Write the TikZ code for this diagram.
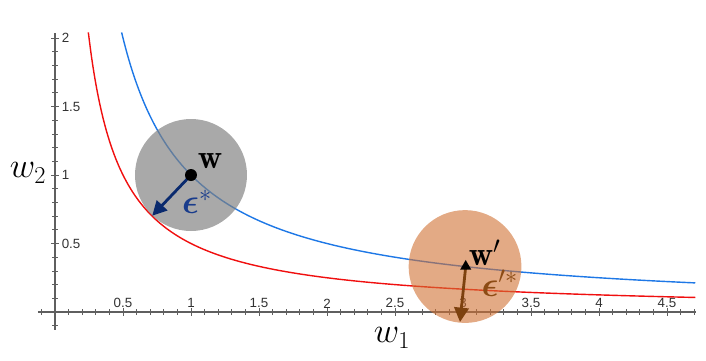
\documentclass[tikz,border=0pt]{standalone}
\usepackage{fontspec}
\usepackage{amsmath}
\usepackage{bm}
\usepackage{xcolor}
\usetikzlibrary{arrows.meta,shapes.geometric}

\newfontfamily\ticksans{Liberation Sans}

\definecolor{curveblue}{RGB}{30,120,230}
\definecolor{curvered}{RGB}{240,15,15}
\definecolor{axisgray}{RGB}{95,95,95}
\definecolor{labelgray}{RGB}{50,50,50}
\definecolor{ballgray}{RGB}{128,128,128}
\definecolor{ballorange}{RGB}{209,113,51}
\definecolor{epsnavy}{RGB}{10,42,110}
\definecolor{epsblue}{RGB}{25,60,140}
\definecolor{epsbrown}{RGB}{125,65,15}
\definecolor{epsbrowntext}{RGB}{140,75,20}

\tikzset{
  axisline/.style={axisgray, line width=0.8pt},
  tickmark/.style={axisgray, line width=0.5pt},
  ticklabel/.style={text=labelgray, font=\ticksans\fontsize{9.5}{11}\selectfont, inner sep=0pt},
  epsarrow/.style={line width=2pt, -{Triangle[length=0.36cm,width=0.36cm]}},
  veclabel/.style={font=\fontsize{24}{27}\selectfont, inner sep=0pt},
  epslabel/.style={font=\fontsize{27}{30}\selectfont, inner sep=0pt},
  axislabel/.style={font=\fontsize{23}{26}\selectfont, inner sep=0pt}
}

\begin{document}
\begin{tikzpicture}[x=3.4cm, y=3.425cm]
\useasboundingbox (-0.4044,-0.3504) rectangle (4.7868,2.2774);

% Axes
\draw[axisline] (-0.125,0) -- (4.71,0);
\draw[axisline] (0,-0.13) -- (0,2.04);

% Minor ticks
\foreach \x in {-0.1,0.1,0.2,...,4.71}
  \draw[tickmark] (\x,0) ++(0pt,-1.8pt) -- ++(0pt,3.6pt);
\foreach \y in {-0.1,0.1,0.2,...,2.01}
  \draw[tickmark] (0,\y) ++(-1.8pt,0pt) -- ++(3.6pt,0pt);

% Major ticks and labels
\foreach \x [count=\i] in {0.5,1,1.5,2,2.5,3,3.5,4,4.5} {
  \draw[tickmark] (\x,0) ++(0pt,-2.8pt) -- ++(0pt,5.6pt);
  \node[ticklabel] (xlab\i) at (\x,0.063) {\x};
}
\foreach \y [count=\i] in {0.5,1,1.5,2} {
  \draw[tickmark] (0,\y) ++(-2.8pt,0pt) -- ++(5.6pt,0pt);
  \node[ticklabel, anchor=west] (ylab\i) at (0.048,\y) {\y};
}

% Axis labels
\node[axislabel] (wone) at (2.478,-0.19) {$w_1$};
\node[axislabel] (wtwo) at (-0.199,1.015) {$w_2$};

% Level curves
\draw[curvered, line width=1pt, domain=0.245:4.71, samples=200, smooth] plot (\x,{0.5/\x});
\draw[curveblue, line width=1pt, domain=0.49:4.71, samples=200, smooth] plot (\x,{1/\x});

% Balls
\fill[ballgray, opacity=0.68] (1,1) circle[radius=1.4cm];
\fill[ballorange, opacity=0.6] (3.015,0.332) circle[radius=1.41cm];

% Perturbations
\coordinate (w) at (1,1);
\coordinate (epsend) at (0.715,0.703);
\coordinate (wp) at (3.02,0.333);
\coordinate (epspend) at (2.978,-0.073);
\draw[epsarrow, epsnavy] (w) -- (epsend);
\draw[epsarrow, epsbrown] (wp) -- (epspend);

% Points
\node[circle, fill=black, minimum size=0.3cm, inner sep=0pt] (wdot) at (w) {};
\node[regular polygon, regular polygon sides=3, fill=black, minimum size=0.32cm, inner sep=0pt] (wtri) at (wp) {};

% Labels
\node[veclabel] (wlab) at (1.14,1.10) {$\mathbf{w}$};
\node[epslabel, text=epsblue] (epslab) at (1.045,0.805) {$\boldsymbol{\epsilon}^{*}$};
\node[veclabel] (wplab) at (3.16,0.431) {$\mathbf{w}'$};
\node[epslabel, text=epsbrowntext] (epsplab) at (3.27,0.21) {$\boldsymbol{\epsilon}'^{*}$};

\end{tikzpicture}
\end{document}
